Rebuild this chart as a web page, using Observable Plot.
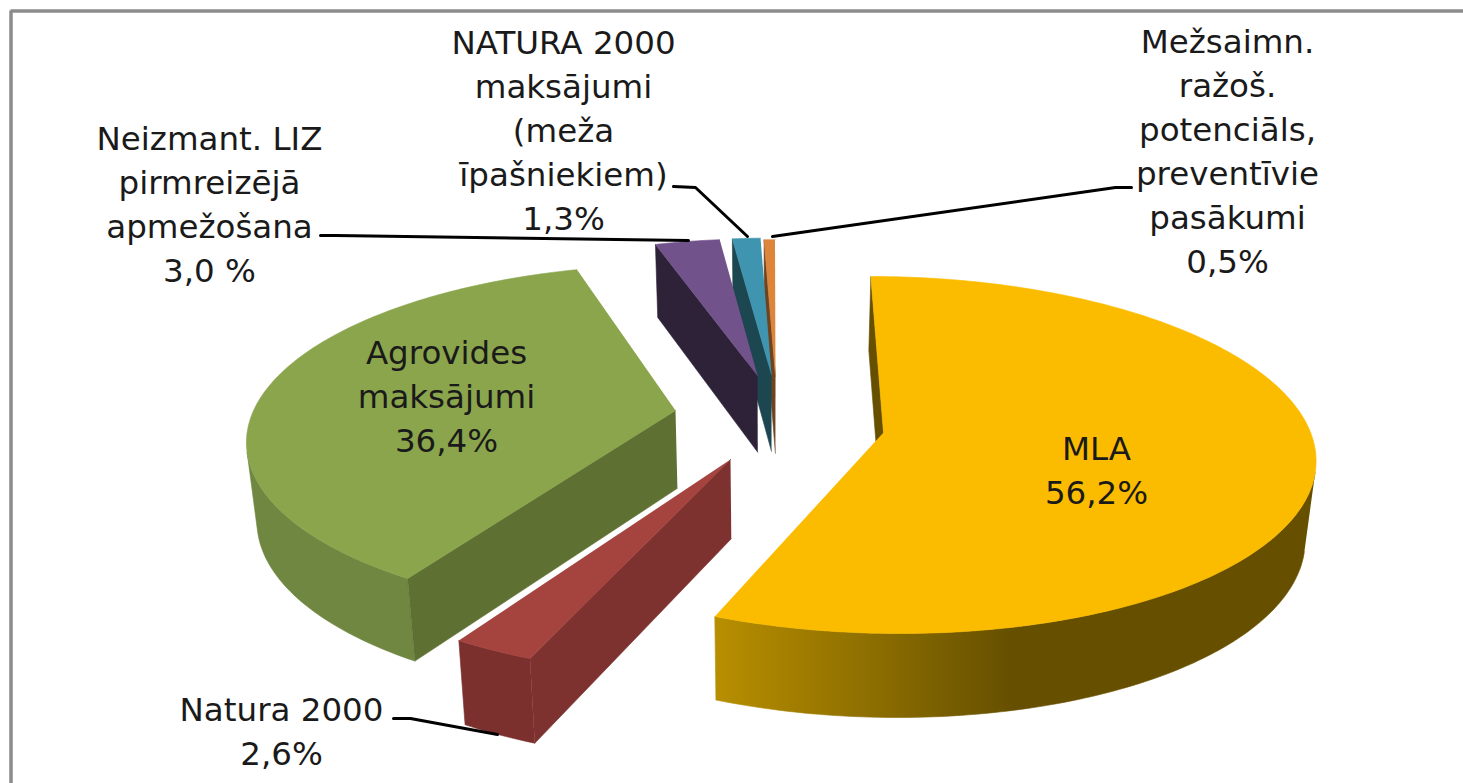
<!DOCTYPE html>
<html><head><meta charset="utf-8">
<script src="https://cdn.jsdelivr.net/npm/d3@7"></script>
<script src="https://cdn.jsdelivr.net/npm/@observablehq/plot@0.6"></script>
<style>html,body{margin:0;padding:0;background:#fff;overflow:hidden}</style>
</head><body><div id="chart"></div>
<script>
// Data
const names = ["MLA","Natura 2000","Agrovides maksājumi","Neizmant. LIZ pirmreizējā apmežošana","NATURA 2000 maksājumi (meža īpašniekiem)","Mežsaimn. ražoš. potenciāls, preventīvie pasākumi"];
const shares = [56.2,2.6,36.4,3.0,1.3,0.5];
const labels = ["MLA\n56,2%","Natura 2000\n2,6%","Agrovides\nmaksājumi\n36,4%","Neizmant. LIZ\npirmreizējā\napmežošana\n3,0 %","NATURA 2000\nmaksājumi\n(meža\nīpašniekiem)\n1,3%","Mežsaimn.\nražoš.\npotenciāls,\npreventīvie\npasākumi\n0,5%"];

// Layout & style (pixel space of the chart)
const W=1463,H=783;
const cam={x0:770,y0:450,rx:420,ry:175,k:0.124,h:79,shrink:0.02};
const apex=[[883,432],[730,459],[675,410],[757,375],[771,374],[775,376]];
const radius=[[1.03,1.03],[1.065,1.065],[1.065,0.995],[0.97,0.97],[0.97,0.97],[0.97,0.97]];
const topCol=["#fbbc00","#a5433f","#8aa54c","#72528b","#3f95b0","#dd853a"];
const cutCol=["#665000","#7e3230","#5f7033","#2e2238","#1c4650","#6e4420"];
const rimCol=["url(#rimMLA)","#7b302e","#6f8740","#2e2238","#1c4650","#6e4420"];
const order=[5,4,3,2,0,1];
const labelPos=[[1096,467],[281,728],[446,393],[209,201],[563,127],[1227,148]];
const leaders=[
 [[320,235],[335,235],[688,240]],
 [[673,186],[695,187],[747,236]],
 [[772,236],[1115,187],[1131,187]],
 [[393,718],[410,718],[497,734]]
];
const frame=[[10.5,783],[10.5,10.5],[1463,10.5]];

function project(u,v,d){
  const s=1/(1-cam.k*v);
  let x=cam.x0+cam.rx*u*s,y=cam.y0+cam.ry*v*s;
  x=cam.x0+(x-cam.x0)*(1-cam.shrink*d);
  y+=cam.h*Math.sqrt(s)*d;
  return {x,y};
}
function unproject(x,y){
  const v=(y-cam.y0)/(cam.ry+cam.k*(y-cam.y0));
  return [(x-cam.x0)*(1-cam.k*v)/cam.rx,v];
}
function signed(p){let a=0;p.forEach((q,i)=>{const r=p[(i+1)%p.length];a+=q.x*r.y-r.x*q.y});return a}

// Build faces from the shares
let cum=0;
const slices=shares.map((s,i)=>{const a0=cum/100*2*Math.PI;cum+=s;const a1=cum/100*2*Math.PI;return {i,a0,a1}});
const polys=[];
for(const idx of order){
  const {a0,a1}=slices[idx];
  const [au,av]=unproject(...apex[idx]);
  const [R0,R1]=radius[idx];
  const n=Math.max(4,Math.ceil((a1-a0)/(Math.PI/180)));
  const ang=d3.range(n+1).map(j=>a0+(a1-a0)*j/n);
  const P=(t,d)=>{const R=R0+(R1-R0)*(t-a0)/(a1-a0);return project(au+R*Math.sin(t),av-R*Math.cos(t),d)};
  const At=project(au,av,0),Ab=project(au,av,1);
  const startFace=[At,P(a0,0),P(a0,1),Ab];
  const endFace=[At,P(a1,0),P(a1,1),Ab];
  // outer wall: only the part turned towards the viewer
  const vis=ang.filter((t,j)=>{
    const t0=ang[Math.max(j-1,0)],t1=ang[Math.min(j+1,n)];
    return signed([P(t0,0),P(t1,0),P(t1,1),P(t0,1)])<0;
  });
  if(vis.length>1) polys.push({pts:[...vis.map(t=>P(t,0)),...vis.slice().reverse().map(t=>P(t,1))],fill:rimCol[idx]});
  if(signed(endFace)>0) polys.push({pts:endFace,fill:cutCol[idx]});
  if(signed(startFace)<0) polys.push({pts:startFace,fill:cutCol[idx]});
  polys.push({pts:[At,...ang.map(t=>P(t,0))],fill:topCol[idx]});
}

const defsMark=()=>{
  const d=d3.create("svg:defs");
  const g=d.append("linearGradient").attr("id","rimMLA").attr("gradientUnits","userSpaceOnUse")
    .attr("x1",714).attr("x2",1010).attr("y1",0).attr("y2",0);
  g.append("stop").attr("offset",0).attr("stop-color","#b88f00");
  g.append("stop").attr("offset",1).attr("stop-color","#665000");
  return d.node();
};
const toXY=a=>a.map(([x,y])=>({x,y}));
const textRows=labels.map((t,i)=>({t,x:labelPos[i][0],y:labelPos[i][1]}));

const plot=Plot.plot({
  width:W,height:H,margin:0,
  x:{domain:[0,W],range:[0,W],axis:null},
  y:{domain:[0,H],range:[0,H],axis:null},
  style:{background:"#fff"},
  marks:[
    defsMark,
    Plot.line(toXY(frame),{x:"x",y:"y",stroke:"#8c8c8c",strokeWidth:3.5,strokeLinejoin:"miter"}),
    ...polys.map(p=>Plot.line(p.pts,{x:"x",y:"y",fill:p.fill,stroke:p.fill,strokeWidth:0.6})),
    ...leaders.map(l=>Plot.line(toXY(l),{x:"x",y:"y",stroke:"#000",strokeWidth:3})),
    Plot.text(textRows,{x:"x",y:"y",text:"t",fontSize:32.5,lineHeight:1.354,fontFamily:"DejaVu Sans",fill:"#1a1a1a",textAnchor:"middle"})
  ]
});
document.getElementById("chart").appendChild(plot);
</script></body></html>
